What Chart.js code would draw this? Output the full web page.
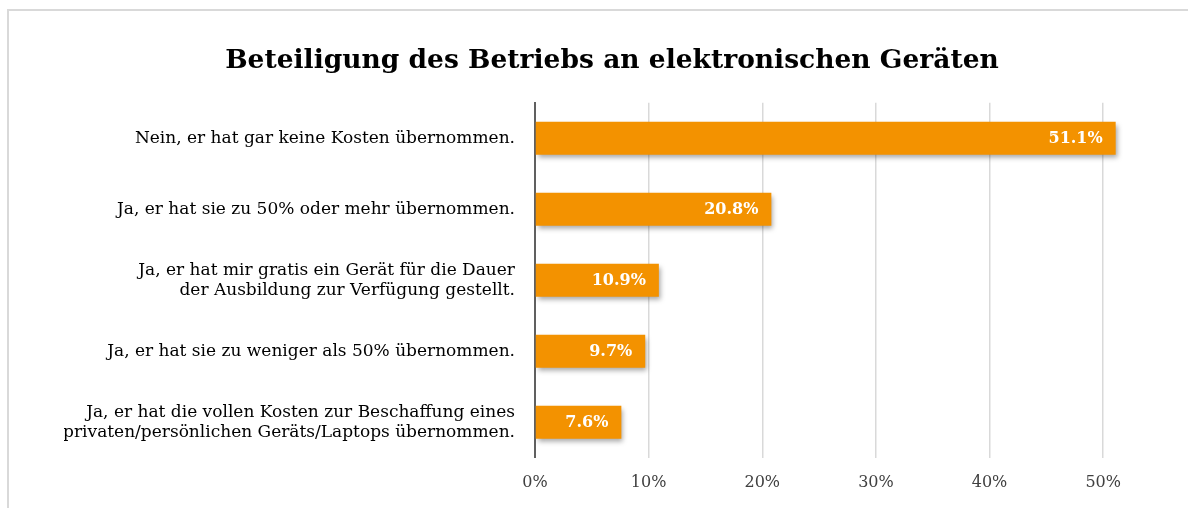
<!DOCTYPE html>
<html>
<head>
<meta charset="utf-8">
<script src="https://cdn.jsdelivr.net/npm/chart.js@4.4.0/dist/chart.umd.min.js"></script>
<style>
    html, body { margin: 0; padding: 0; background: #fff; overflow: hidden; }
    #frame {
        position: absolute; left: 7px; top: 9px;
        width: 1300px; height: 600px;
        border: 2px solid #d9d9d9;
    }
    #wrap { position: absolute; left: 0; top: 0; width: 1188px; height: 508px; }
</style>
</head>
<body>
<div id="frame"></div>
<div id="wrap"><canvas id="chart"></canvas></div>
<script>
// Chart data
const categories = [
    'Nein, er hat gar keine Kosten übernommen.',
    'Ja, er hat sie zu 50% oder mehr übernommen.',
    ['Ja, er hat mir gratis ein Gerät für die Dauer', 'der Ausbildung zur Verfügung gestellt.'],
    'Ja, er hat sie zu weniger als 50% übernommen.',
    ['Ja, er hat die vollen Kosten zur Beschaffung eines', 'privaten/persönlichen Geräts/Laptops übernommen.']
];
const shares = [51.1, 20.8, 10.9, 9.7, 7.6];
const tickValues = [0, 10, 20, 30, 40, 50];

const SERIF = 'Georgia, "DejaVu Serif", serif';
const ORANGE = '#f39200';

// Drop shadow under the bars
const barShadow = {
    id: 'barShadow',
    beforeDatasetsDraw(chart) {
        const ctx = chart.ctx;
        ctx.save();
        ctx.shadowColor = 'rgba(0,0,0,0.35)';
        ctx.shadowBlur = 5;
        ctx.shadowOffsetX = 2;
        ctx.shadowOffsetY = 3;
    },
    afterDatasetsDraw(chart) {
        chart.ctx.restore();
    }
};

// Value labels inside the bar ends
const valueLabels = {
    id: 'valueLabels',
    afterDatasetsDraw(chart) {
        const ctx = chart.ctx;
        const meta = chart.getDatasetMeta(0);
        ctx.save();
        ctx.fillStyle = '#ffffff';
        ctx.font = 'bold 16px ' + SERIF;
        ctx.textAlign = 'right';
        ctx.textBaseline = 'middle';
        meta.data.forEach((bar, i) => {
            ctx.fillText(shares[i].toFixed(1) + '%', bar.x - 13, bar.y + 1);
        });
        ctx.restore();
    }
};

const ctx = document.getElementById('chart').getContext('2d');
const chart = new Chart(ctx, {
    type: 'bar',
    data: {
        labels: categories,
        datasets: [{
            data: shares,
            backgroundColor: ORANGE,
            borderWidth: 0,
            barPercentage: 0.93,
            categoryPercentage: 0.5
        }]
    },
    options: {
        indexAxis: 'y',
        responsive: true,
        maintainAspectRatio: false,
        animation: false,
        layout: { padding: { left: 64, right: 28, top: 0, bottom: 1 } },
        plugins: {
            legend: { display: false },
            tooltip: { enabled: false },
            title: {
                display: true,
                text: 'Beteiligung des Betriebs an elektronischen Geräten',
                color: '#000',
                font: { family: SERIF, size: 26.5, weight: 'bold' },
                padding: { top: 45, bottom: 26 }
            }
        },
        scales: {
            x: {
                min: 0,
                max: 55,
                afterBuildTicks: (axis) => {
                    axis.ticks = tickValues.map(v => ({ value: v }));
                },
                grid: { color: '#d9d9d9', lineWidth: 1.5, drawTicks: false },
                border: { display: false },
                ticks: {
                    padding: 15,
                    color: '#404040',
                    font: { family: SERIF, size: 16 },
                    callback: (v) => v + '%'
                }
            },
            y: {
                afterFit: (axis) => { axis.width = 535 - 64; },
                grid: { display: false, drawTicks: false },
                border: { display: true, color: '#606060', width: 2 },
                ticks: {
                    padding: 20,
                    color: '#000',
                    font: { family: SERIF, size: 17, lineHeight: 1.2 }
                }
            }
        }
    },
    plugins: [barShadow, valueLabels]
});
</script>
</body>
</html>
